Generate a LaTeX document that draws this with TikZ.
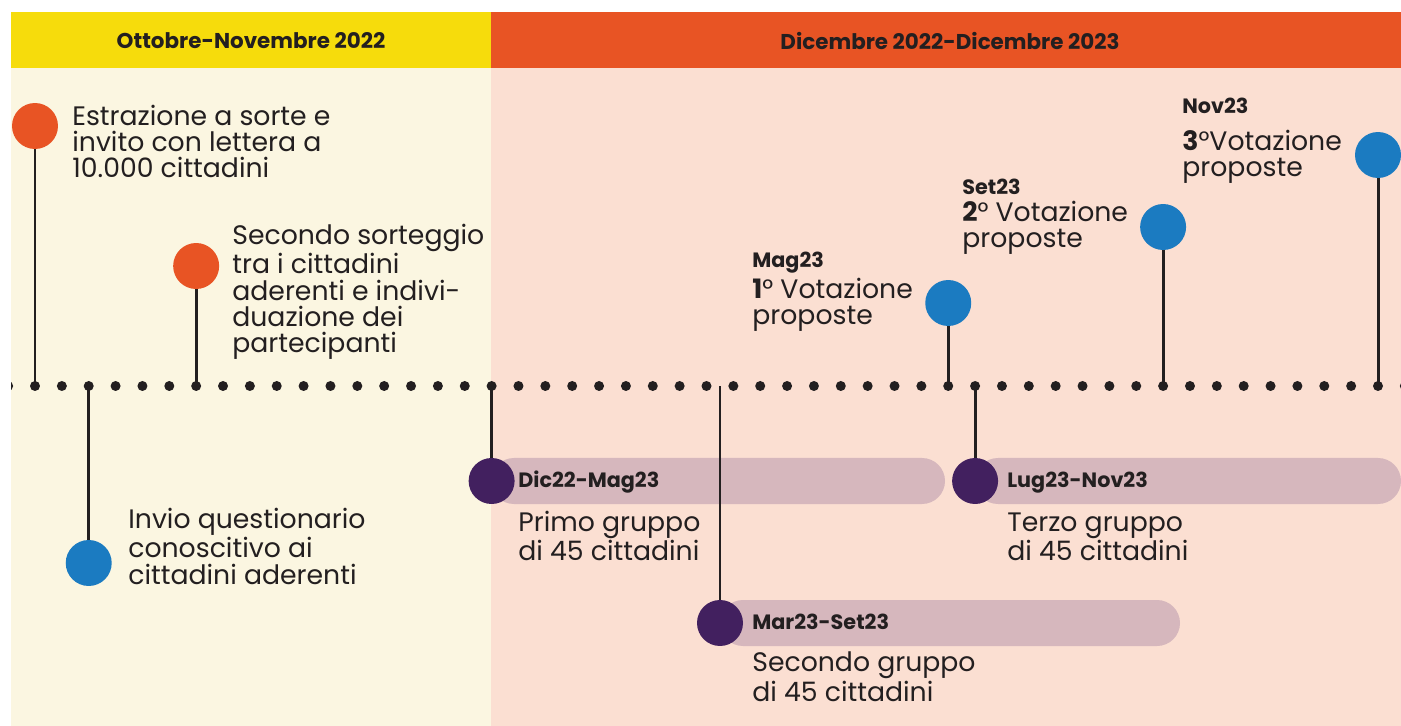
\documentclass[tikz,border=0pt]{standalone}
\usepackage{fontspec}
\setmainfont{Poppins}
\usetikzlibrary{positioning}
\definecolor{giallo}{HTML}{F6DC0C}
\definecolor{arancio}{HTML}{E85424}
\definecolor{crema}{HTML}{FBF6E1}
\definecolor{rosa}{HTML}{FBDFD2}
\definecolor{blu}{HTML}{1B7BC1}
\definecolor{viola}{HTML}{42205F}
\definecolor{barra}{HTML}{D6B7BD}
\definecolor{inchiostro}{HTML}{231F20}
\tikzset{
  tappa/.style={circle, minimum size=0.92cm, inner sep=0pt},
  gambo/.style={line width=1.7pt, inchiostro},
  testo/.style={anchor=base west, align=left, inner sep=0pt, text=inchiostro,
    font=\fontsize{15.2}{15}\selectfont},
  data/.style={anchor=base west, inner sep=0pt, text=inchiostro,
    font=\bfseries\fontsize{11.8}{13}\selectfont},
  titolo/.style={inner sep=0pt, text=inchiostro, font=\bfseries\fontsize{12.2}{14}\selectfont}
}
\begin{document}
\begin{tikzpicture}[x=0.02cm, y=-0.02cm]
\useasboundingbox (0,0) rectangle (1401,726);
% fondi e intestazioni
\fill[giallo] (11,12) rectangle (491,68);
\fill[arancio] (491,12) rectangle (1401,68);
\fill[crema] (11,68) rectangle (491,726);
\fill[rosa] (491,68) rectangle (1401,726);
\node[titolo] (t1) at (251,41) {Ottobre-Novembre 2022};
\node[titolo] (t2) at (950,41) {Dicembre 2022-Dicembre 2023};
% linea del tempo
\foreach \i in {0,...,51}
  \coordinate (p\i) at (35+26.86*\i,386);
\begin{scope}
  \clip (11,68) rectangle (1401,726);
  \foreach \i in {-1,...,51}
    \fill[inchiostro] (35+26.86*\i,386) circle[radius=0.1cm];
\end{scope}
\coordinate (m) at (720,386);
% fasce dei gruppi
\fill[barra, rounded corners=0.46cm] (491,458) rectangle (945,504);
\fill[barra, rounded corners=0.46cm] (720,600) rectangle (1180,646);
\fill[barra, rounded corners=0.46cm] (975,458) rectangle (1401,504);
% tappe
\node[tappa, fill=arancio] (c1) at (p0 |- 0,126) {};
\node[tappa, fill=arancio] (c2) at (p6 |- 0,266) {};
\node[tappa, fill=blu] (c3) at (p2 |- 0,563) {};
\node[tappa, fill=viola] (g1) at (p17 |- 0,481) {};
\node[tappa, fill=viola] (g2) at (m |- 0,623) {};
\node[tappa, fill=viola] (g3) at (p35 |- 0,481) {};
\node[tappa, fill=blu] (v1) at (p34 |- 0,303) {};
\node[tappa, fill=blu] (v2) at (p42 |- 0,227) {};
\node[tappa, fill=blu] (v3) at (p50 |- 0,155) {};
\draw[gambo] (c1) -- (p0);
\draw[gambo] (c2) -- (p6);
\draw[gambo] (c3) -- (p2);
\draw[gambo] (g1) -- (p17);
\draw[gambo] (g2) -- (m);
\draw[gambo] (g3) -- (p35);
\draw[gambo] (v1) -- (p34);
\draw[gambo] (v2) -- (p42);
\draw[gambo] (v3) -- (p50);
% testi (base = ultima riga)
\node[testo] (e1) at (72,178) {Estrazione a sorte e\\invito con lettera a\\10.000 cittadini};
\node[testo] (e2) at (232,353) {Secondo sorteggio\\tra i cittadini\\aderenti e indivi-\\duazione dei\\partecipanti};
\node[testo] (e3) at (128,584) {Invio questionario\\conoscitivo ai\\cittadini aderenti};
\node[data] (d1) at (518,487) {Dic22-Mag23};
\node[testo] (e4) at (518,561) {Primo gruppo\\di 45 cittadini};
\node[data] (d2) at (752,629) {Mar23-Set23};
\node[testo] (e5) at (752,701) {Secondo gruppo\\di 45 cittadini};
\node[data] (d3) at (1007,487) {Lug23-Nov23};
\node[testo] (e6) at (1007,561) {Terzo gruppo\\di 45 cittadini};
\node[data] (d4) at (752,268) {Mag23};
\node[testo] (e7) at (752,325) {{\bfseries 1}° Votazione\\proposte};
\node[data] (d5) at (962,195) {Set23};
\node[testo] (e8) at (962,248) {{\bfseries 2}° Votazione\\proposte};
\node[data] (d6) at (1182,114) {Nov23};
\node[testo] (e9) at (1182,177) {{\bfseries 3}°Votazione\\proposte};
\end{tikzpicture}
\end{document}
